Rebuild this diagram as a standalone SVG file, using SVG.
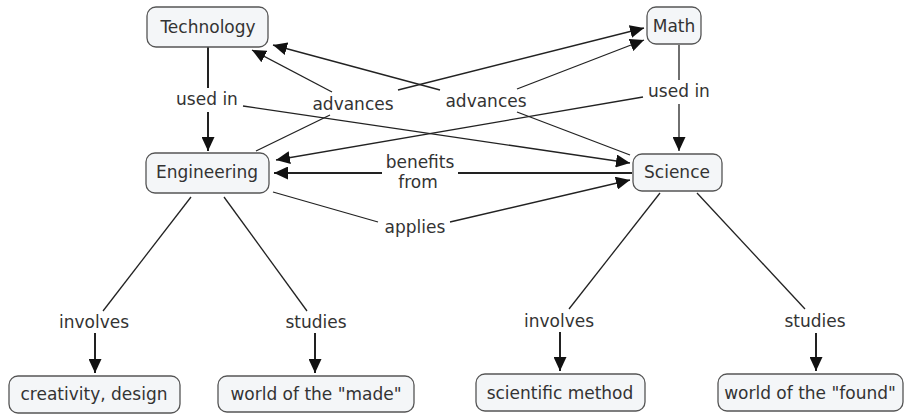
<svg xmlns="http://www.w3.org/2000/svg" width="906" height="414" viewBox="0 0 906 414">
<style>
.node rect{fill:#f4f6f8;stroke:#555;stroke-width:1.3}
text{font-family:"DejaVu Sans","Verdana",sans-serif;font-size:17px;fill:#333;text-anchor:middle}
.c line{stroke:#222;stroke-width:1.3}
.c .t{stroke-width:2}
</style>
<defs>
<marker id="ah" markerUnits="userSpaceOnUse" markerWidth="15" markerHeight="13" refX="14" refY="6.5" orient="auto">
<path d="M0,0 L14,6.5 L0,13 z" fill="#111"/>
</marker>
</defs>
<rect width="906" height="414" fill="#fff"/>
<g id="connectors" class="c">
<line class="t" x1="208" y1="47" x2="208" y2="88"/>
<line class="t" x1="208" y1="112" x2="208" y2="151" marker-end="url(#ah)"/>
<line x1="243" y1="106" x2="630" y2="163" marker-end="url(#ah)"/>
<line x1="256" y1="151" x2="330" y2="115"/>
<line x1="332" y1="92" x2="252" y2="50" marker-end="url(#ah)"/>
<line x1="398" y1="90" x2="644" y2="28" marker-end="url(#ah)"/>
<line x1="630" y1="155" x2="517" y2="112"/>
<line x1="440" y1="90" x2="273" y2="45" marker-end="url(#ah)"/>
<line x1="517" y1="89" x2="644" y2="40" marker-end="url(#ah)"/>
<line x1="679" y1="45" x2="679" y2="80"/>
<line x1="679" y1="104" x2="679" y2="151" marker-end="url(#ah)"/>
<line x1="643" y1="97" x2="276" y2="160" marker-end="url(#ah)"/>
<line class="t" x1="632" y1="173" x2="458" y2="173"/>
<line class="t" x1="382" y1="173" x2="274" y2="173" marker-end="url(#ah)"/>
<line x1="273" y1="192" x2="378" y2="222"/>
<line x1="450" y1="222" x2="630" y2="180" marker-end="url(#ah)"/>
<line x1="191" y1="197" x2="103" y2="311"/>
<line class="t" x1="95" y1="333" x2="95" y2="373" marker-end="url(#ah)"/>
<line x1="224" y1="197" x2="307" y2="311"/>
<line class="t" x1="315" y1="333" x2="315" y2="373" marker-end="url(#ah)"/>
<line x1="660" y1="193" x2="569" y2="309"/>
<line class="t" x1="560" y1="332" x2="560" y2="371" marker-end="url(#ah)"/>
<line x1="697" y1="193" x2="805" y2="309"/>
<line class="t" x1="816" y1="333" x2="816" y2="371" marker-end="url(#ah)"/>
<text x="207" y="105">used in</text>
<text x="353" y="110">advances</text>
<text x="486" y="107">advances</text>
<text x="679" y="97">used in</text>
<text x="420" y="168">benefits</text>
<text x="418" y="188">from</text>
<text x="415" y="233">applies</text>
<text x="94" y="328">involves</text>
<text x="316" y="328">studies</text>
<text x="559" y="327">involves</text>
<text x="815" y="327">studies</text>
</g>
<g id="technology" class="node"><rect x="147" y="7" width="121" height="40" rx="9"/><text x="208" y="33">Technology</text></g>
<g id="math" class="node"><rect x="647" y="7" width="54" height="37" rx="9"/><text x="674" y="32">Math</text></g>
<g id="engineering" class="node"><rect x="146" y="153" width="123" height="40" rx="9"/><text x="207" y="178">Engineering</text></g>
<g id="science" class="node"><rect x="633" y="154" width="89" height="37" rx="9"/><text x="677" y="178">Science</text></g>
<g id="creativity" class="node"><rect x="9" y="376" width="171" height="37" rx="9"/><text x="94" y="400">creativity, design</text></g>
<g id="made" class="node"><rect x="218" y="376" width="196" height="36" rx="9"/><text x="316" y="400">world of the "made"</text></g>
<g id="method" class="node"><rect x="476" y="374" width="169" height="37" rx="9"/><text x="560" y="399">scientific method</text></g>
<g id="found" class="node"><rect x="718" y="374" width="185" height="37" rx="9"/><text x="810" y="399">world of the "found"</text></g>
</svg>
